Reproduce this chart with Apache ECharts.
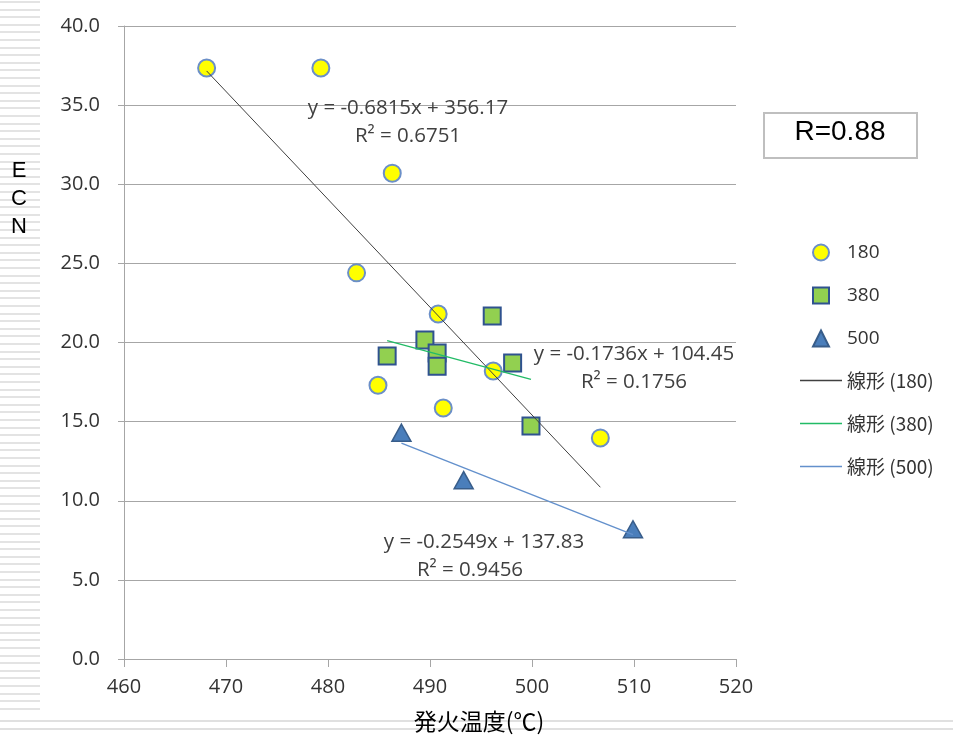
<!DOCTYPE html>
<html>
<head>
<meta charset="utf-8">
<script src="https://cdn.jsdelivr.net/npm/echarts@6/dist/echarts.min.js"></script>
<style>
html, body { margin: 0; padding: 0; background: #fff; }
#main { width: 953px; height: 735px; }
</style>
</head>
<body>
<div id="main"></div>
<script>
// data
var s180 = [[468.1, 37.35], [479.3, 37.35], [486.3, 30.7], [482.8, 24.4], [490.8, 21.8],
            [484.9, 17.3], [491.3, 15.86], [496.2, 18.2], [506.7, 13.97]];
var s380 = [[485.8, 19.15], [489.5, 20.16], [490.7, 19.34], [490.7, 18.5], [496.1, 21.67],
            [498.1, 18.7], [499.9, 14.72]];
var s500 = [[487.2, 14.3], [493.3, 11.3], [509.9, 8.2]];

var seriesNames = ['180', '380', '500'];
var trendNames = ['線形 (180)', '線形 (380)', '線形 (500)'];
// coefficients as printed on the chart
var slopes = [-0.6815, -0.1736, -0.2549];
var intercepts = [356.17, 104.45, 137.83];
var eqTexts = ['y = -0.6815x + 356.17', 'y = -0.1736x + 104.45', 'y = -0.2549x + 137.83'];
var r2Texts = ['R² = 0.6751', 'R² = 0.1756', 'R² = 0.9456'];
var rText = 'R=0.88';

var dom = document.getElementById('main');
var myChart = echarts.init(dom);

var allSets = [s180, s380, s500];
function trend(i) {
    var xs = allSets[i].map(function (p) { return p[0]; });
    var x0 = Math.min.apply(null, xs), x1 = Math.max.apply(null, xs);
    return [[x0, slopes[i] * x0 + intercepts[i]], [x1, slopes[i] * x1 + intercepts[i]]];
}

var numFont = '"Open Sans", "Noto Sans", sans-serif';
var jpFont = '"Noto Sans CJK JP", sans-serif';
var grey = '#a6a6a6';
var lineIcon = 'path://M0,0 L60,0 L60,1.8 L0,1.8 Z';

// striped background bits on the left and the bottom
var stripes = [];
for (var y = 1; y < 714; y += 7.6) {
    stripes.push({ type: 'rect', shape: { x: 0, y: Math.round(y), width: 40, height: 2 },
        style: { fill: '#e3e3e3' }, silent: true, z: -10 });
}
stripes.push({ type: 'rect', shape: { x: 0, y: 720, width: 953, height: 2 }, style: { fill: '#e0e0e0' }, z: -10 });
stripes.push({ type: 'rect', shape: { x: 0, y: 728, width: 953, height: 2 }, style: { fill: '#e0e0e0' }, z: -10 });

var eqPos = [[408, 108, 408, 136], [634, 354, 634, 382], [484, 542, 470, 570]];
var eqGraphics = [];
eqPos.forEach(function (p, i) {
    eqGraphics.push({ type: 'text', x: p[0], y: p[1], style: { text: eqTexts[i], font: '20.5px ' + numFont,
        fill: '#404040', align: 'center', verticalAlign: 'middle' }, z: 10 });
    eqGraphics.push({ type: 'text', x: p[2], y: p[3], style: { text: r2Texts[i], font: '20.5px ' + numFont,
        fill: '#404040', align: 'center', verticalAlign: 'middle' }, z: 10 });
});

option = {
    backgroundColor: '#fff',
    animation: false,
    grid: { left: 124, right: 217, top: 26, bottom: 76 },
    xAxis: {
        type: 'value', min: 460, max: 520, interval: 10,
        axisLine: { lineStyle: { color: grey } },
        axisTick: { show: true, length: 8, lineStyle: { color: grey } },
        axisLabel: { color: '#333', fontSize: 20, fontFamily: numFont, margin: 18 },
        splitLine: { show: false }
    },
    yAxis: {
        type: 'value', min: 0, max: 40, interval: 5,
        axisLine: { show: true, lineStyle: { color: grey } },
        axisTick: { show: true, length: 6, lineStyle: { color: grey } },
        axisLabel: { color: '#333', fontSize: 20, fontFamily: numFont, margin: 24,
            formatter: function (v) { return v.toFixed(1); } },
        splitLine: { show: true, lineStyle: { color: grey } }
    },
    legend: [{
        orient: 'vertical', left: 807, top: 238, itemWidth: 16, itemHeight: 16, itemGap: 24,
        data: [{ name: seriesNames[0], icon: 'circle' }, { name: seriesNames[1], icon: 'rect' },
               { name: seriesNames[2], icon: 'triangle' }],
        textStyle: { fontSize: 19, fontFamily: numFont, color: '#333', padding: [0, 0, 0, 13] }
    }, {
        orient: 'vertical', left: 795, top: 366, itemWidth: 42, itemHeight: 22, itemGap: 24,
        symbolKeepAspect: true,
        data: trendNames.map(function (n) { return { name: n, icon: lineIcon }; }),
        textStyle: { fontSize: 19, fontFamily: jpFont, color: '#333' }
    }],
    graphic: stripes.concat(eqGraphics).concat([
        { type: 'text', x: 19, y: 199, style: { text: 'E\nC\nN', font: '22px "Liberation Sans", sans-serif',
            lineHeight: 28, fill: '#000', align: 'center', verticalAlign: 'middle' } },
        { type: 'text', x: 479, y: 721, style: { text: '発火温度(℃)', font: '23px ' + jpFont,
            fill: '#000', align: 'center', verticalAlign: 'middle' }, z: 10 },
        { type: 'rect', shape: { x: 764, y: 113, width: 153, height: 45 },
            style: { fill: '#fff', stroke: '#bfbfbf', lineWidth: 2 } },
        { type: 'text', x: 840, y: 132, style: { text: rText, font: '28px "Liberation Sans", sans-serif',
            fill: '#000', align: 'center', verticalAlign: 'middle' } }
    ]),
    series: [
        { name: trendNames[0], type: 'line', data: trend(0), symbol: 'none', z: 3,
          lineStyle: { color: '#404040', width: 1 }, itemStyle: { color: '#404040' } },
        { name: trendNames[1], type: 'line', data: trend(1), symbol: 'none', z: 3,
          lineStyle: { color: '#22bb66', width: 1.4 }, itemStyle: { color: '#22bb66' } },
        { name: trendNames[2], type: 'line', data: trend(2), symbol: 'none', z: 3,
          lineStyle: { color: '#6390cc', width: 1.4 }, itemStyle: { color: '#6390cc' } },
        { name: seriesNames[0], type: 'scatter', data: s180, symbol: 'circle', symbolSize: 17, z: 2,
          itemStyle: { color: '#ffff00', borderColor: '#6b8fc8', borderWidth: 2, opacity: 1 } },
        { name: seriesNames[1], type: 'scatter', data: s380, symbol: 'rect', symbolSize: 17, z: 2,
          itemStyle: { color: '#92d050', borderColor: '#2f528f', borderWidth: 2, opacity: 1 } },
        { name: seriesNames[2], type: 'scatter', data: s500, symbol: 'triangle', symbolSize: [19, 17], z: 2,
          itemStyle: { color: '#4a7ebb', borderColor: '#385d8a', borderWidth: 1.5, opacity: 1 } }
    ]
};
if (option && typeof option === "object") {
    myChart.setOption(option, true);
}
window.onresize = function () {
    myChart.resize();
};
</script>
</body>
</html>
